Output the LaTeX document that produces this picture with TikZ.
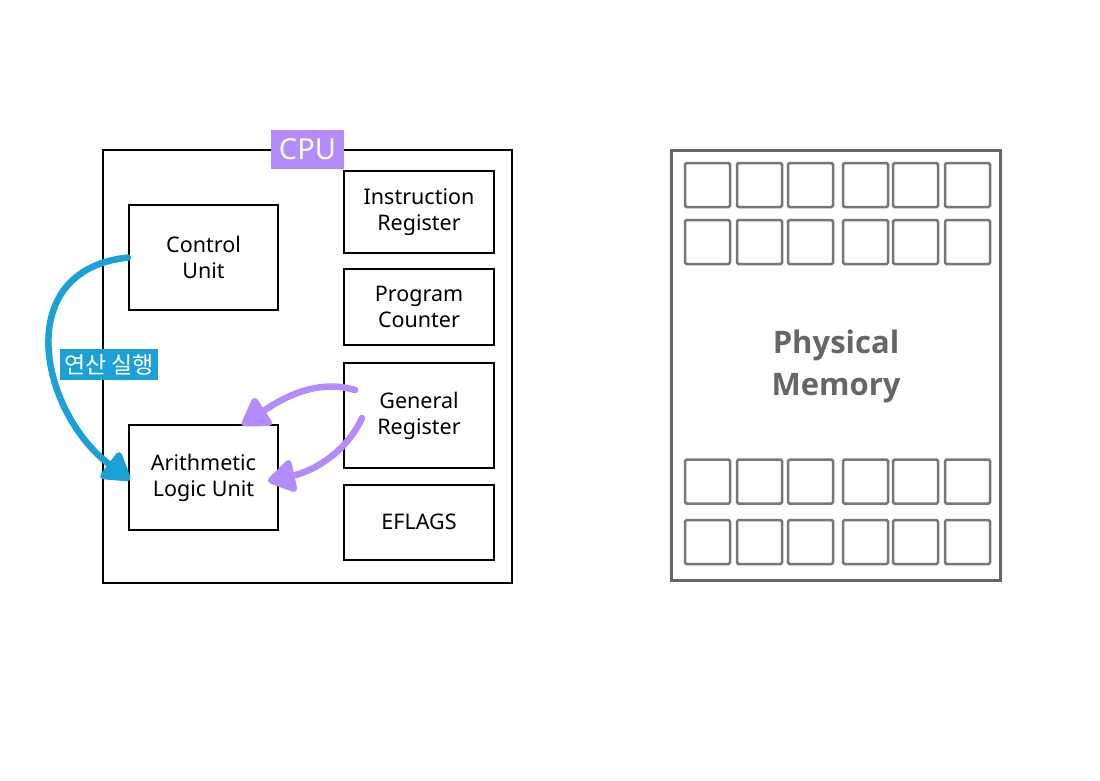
\documentclass[tikz,border=0pt]{standalone}
\usepackage{fontspec}
\setmainfont{Noto Sans}
\newfontfamily\krfont{Noto Sans CJK KR}
\newfontfamily\memfont{Open Sans}
\usetikzlibrary{arrows.meta}
\definecolor{cpupurple}{HTML}{B38BFA}
\definecolor{opblue}{HTML}{1BA1D6}
\definecolor{memgray}{HTML}{666666}
\definecolor{cellgray}{HTML}{777777}
\begin{document}
\begin{tikzpicture}[x=1pt,y=-1pt,
  part/.style={draw=black, line width=2pt, align=center, inner sep=0pt,
    font=\fontsize{21.5}{26}\selectfont},
  cpubox/.style={draw=black, line width=2pt, inner sep=0pt},
  tag/.style={fill=#1, text=white, inner sep=0pt},
  cell/.style={draw=cellgray, line width=2.5pt, rounded corners=1.5pt,
    minimum width=45pt, minimum height=44pt, inner sep=0pt},
  sketcharrow/.style={draw=#1, line width=6.5pt, line cap=round,
    -{Triangle[length=30pt,width=36pt,round]}},
]
\useasboundingbox (0,0) rectangle (1100,780);
\fill[white] (0,0) rectangle (1100,780);

% CPU
\node[cpubox, minimum width=409pt, minimum height=433pt] (cpu) at (307.5,366.5) {};
\node[tag=cpupurple, minimum width=73pt, minimum height=39pt,
  font=\fontsize{29}{32}\selectfont] (cpulabel) at (307.5,149.5) {CPU};

\node[part, minimum width=149pt, minimum height=105pt] (cu) at (203.5,257.5) {Control\\Unit};
\node[part, minimum width=149pt, minimum height=105pt] (alu) at (203.5,477.5) {Arithmetic\\Logic Unit};

\node[part, minimum width=150pt, minimum height=82pt] (ir) at (419,212) {Instruction\\Register};
\node[part, minimum width=150pt, minimum height=76pt] (pc) at (419,307) {Program\\Counter};
\node[part, minimum width=150pt, minimum height=105pt] (gr) at (419,415.5) {General\\Register};
\node[part, minimum width=150pt, minimum height=75pt] (ef) at (419,522) {EFLAGS};

% arrows
\coordinate (blueend) at (130,480);
\coordinate (p1start) at (355,390);
\coordinate (p1end) at (242,425);
\coordinate (p2start) at (362,418);
\coordinate (p2end) at (268,481);

\draw[sketcharrow=opblue] (cu.west) .. controls (10,270) and (40,412) .. (blueend);
\draw[sketcharrow=cpupurple] (p1start) .. controls (315,378) and (280,400) .. (p1end);
\draw[sketcharrow=cpupurple] (p2start) .. controls (345,455) and (310,472) .. (p2end);

\node[tag=opblue, minimum width=98pt, minimum height=31pt,
  font=\krfont\fontsize{23}{26}\selectfont] (oplabel) at (109,364.5) {연산 실행};

% Memory
\node[draw=memgray, line width=3pt, minimum width=329pt, minimum height=430pt,
  inner sep=0pt] (mem) at (836,365) {};
\foreach \r/\y in {1/185,2/242,3/481.5,4/542}{
  \foreach \c/\x in {1/707.5,2/759.5,3/810.5,4/865.5,5/915.5,6/967.5}{
    \node[cell] (m\r\c) at (\x,\y) {};
  }
}
\node[font=\memfont\bfseries\fontsize{31}{42}\selectfont, text=memgray, align=center]
  (pm) at (836,366) {Physical\\Memory};
\end{tikzpicture}
\end{document}
